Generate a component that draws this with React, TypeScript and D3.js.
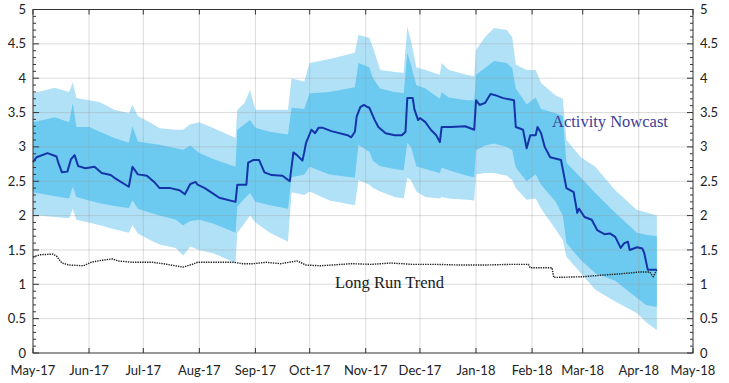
import React from "react";
import * as d3 from "d3";

const nowcastDates = ["2017-05-01","2017-05-03","2017-05-09","2017-05-14","2017-05-15","2017-05-17","2017-05-20","2017-05-22","2017-05-24","2017-05-26","2017-05-30","2017-06-04","2017-06-08","2017-06-13","2017-06-15","2017-06-23","2017-06-25","2017-06-28","2017-07-03","2017-07-07","2017-07-10","2017-07-16","2017-07-21","2017-07-24","2017-07-27","2017-07-30","2017-07-31","2017-08-04","2017-08-08","2017-08-12","2017-08-21","2017-08-22","2017-08-27","2017-08-28","2017-08-31","2017-09-03","2017-09-06","2017-09-10","2017-09-16","2017-09-20","2017-09-22","2017-09-24","2017-09-27","2017-09-28","2017-09-29","2017-10-02","2017-10-04","2017-10-06","2017-10-08","2017-10-13","2017-10-22","2017-10-24","2017-10-26","2017-10-27","2017-10-29","2017-10-31","2017-11-02","2017-11-03","2017-11-06","2017-11-08","2017-11-12","2017-11-17","2017-11-21","2017-11-23","2017-11-24","2017-11-27","2017-11-28","2017-11-30","2017-12-01","2017-12-04","2017-12-07","2017-12-10","2017-12-12","2017-12-13","2017-12-18","2017-12-26","2017-12-31","2018-01-01","2018-01-03","2018-01-06","2018-01-09","2018-01-12","2018-01-16","2018-01-22","2018-01-23","2018-01-27","2018-01-29","2018-01-31","2018-02-03","2018-02-04","2018-02-06","2018-02-08","2018-02-11","2018-02-17","2018-02-20","2018-02-24","2018-02-26","2018-02-27","2018-03-02","2018-03-06","2018-03-09","2018-03-13","2018-03-16","2018-03-19","2018-03-22","2018-03-24","2018-03-26","2018-03-27","2018-03-31","2018-04-03","2018-04-04","2018-04-06","2018-04-11"];
const nowcastValues = [2.78,2.85,2.91,2.86,2.77,2.63,2.64,2.82,2.88,2.72,2.69,2.71,2.62,2.59,2.55,2.42,2.71,2.60,2.58,2.49,2.40,2.40,2.37,2.31,2.46,2.49,2.45,2.40,2.33,2.26,2.20,2.45,2.45,2.77,2.81,2.81,2.63,2.59,2.58,2.50,2.92,2.88,2.80,2.92,3.06,3.25,3.20,3.28,3.28,3.23,3.17,3.14,3.22,3.44,3.58,3.61,3.58,3.57,3.39,3.29,3.20,3.17,3.17,3.22,3.71,3.71,3.54,3.39,3.42,3.36,3.25,3.17,3.07,3.29,3.29,3.30,3.25,3.68,3.61,3.64,3.77,3.75,3.71,3.68,3.29,3.25,2.98,3.17,3.17,3.29,3.20,3.00,2.85,2.81,2.40,2.34,2.04,2.10,1.98,1.94,1.79,1.73,1.74,1.69,1.53,1.60,1.62,1.50,1.54,1.52,1.46,1.21,1.21];

const trendDates = ["2017-05-01","2017-05-05","2017-05-12","2017-05-14","2017-05-17","2017-05-21","2017-05-29","2017-06-02","2017-06-08","2017-06-14","2017-06-17","2017-06-25","2017-07-06","2017-07-12","2017-07-23","2017-07-28","2017-07-31","2017-08-09","2017-08-20","2017-08-25","2017-08-31","2017-09-07","2017-09-15","2017-09-24","2017-09-29","2017-10-07","2017-10-13","2017-10-24","2017-11-04","2017-11-15","2017-11-27","2017-12-10","2017-12-24","2018-01-05","2018-01-20","2018-01-30","2018-01-31","2018-02-12","2018-02-13","2018-03-01","2018-03-10","2018-03-21","2018-04-02","2018-04-07","2018-04-09","2018-04-11"];
const trendValues = [1.40,1.43,1.44,1.41,1.31,1.28,1.27,1.32,1.35,1.37,1.34,1.32,1.32,1.30,1.25,1.29,1.32,1.32,1.32,1.30,1.30,1.32,1.30,1.34,1.28,1.27,1.28,1.30,1.29,1.31,1.29,1.29,1.28,1.28,1.29,1.29,1.24,1.24,1.10,1.11,1.13,1.15,1.18,1.18,1.11,1.21];

const bandDates = ["2017-05-01","2017-05-13","2017-05-21","2017-05-23","2017-05-25","2017-06-01","2017-06-07","2017-06-15","2017-06-23","2017-06-25","2017-06-28","2017-07-05","2017-07-10","2017-07-19","2017-07-23","2017-07-27","2017-08-01","2017-08-09","2017-08-21","2017-08-22","2017-08-26","2017-08-29","2017-09-01","2017-09-09","2017-09-19","2017-09-21","2017-09-28","2017-10-01","2017-10-12","2017-10-26","2017-10-28","2017-11-03","2017-11-05","2017-11-09","2017-11-17","2017-11-22","2017-11-24","2017-11-26","2017-11-29","2017-12-04","2017-12-12","2017-12-13","2017-12-17","2017-12-27","2017-12-31","2018-01-01","2018-01-06","2018-01-11","2018-01-18","2018-01-21","2018-01-23","2018-01-29","2018-02-03","2018-02-06","2018-02-14","2018-02-18","2018-02-20","2018-02-28","2018-03-08","2018-03-19","2018-03-31","2018-04-05","2018-04-11"];
const outerUpper = [3.78,3.86,3.80,3.94,3.71,3.68,3.65,3.54,3.49,3.61,3.45,3.35,3.27,3.25,3.25,3.33,3.36,3.27,3.13,3.54,3.64,3.83,3.54,3.54,3.54,4.00,3.95,4.22,4.28,4.37,4.63,4.59,4.45,4.12,4.09,4.08,4.75,4.55,4.16,4.12,4.05,4.22,4.12,4.05,4.03,4.41,4.60,4.73,4.70,4.60,4.20,4.12,4.12,3.93,3.75,3.70,3.10,2.85,2.71,2.37,2.08,2.05,2.00];
const innerUpper = [3.36,3.43,3.36,3.64,3.29,3.29,3.22,3.13,3.06,3.30,3.08,3.05,3.03,2.98,2.96,3.02,2.91,2.82,2.71,3.25,3.33,3.39,3.28,3.22,3.18,3.57,3.55,3.78,3.80,3.87,4.22,4.16,4.00,3.85,3.80,3.78,4.37,4.20,3.90,3.85,3.70,3.80,3.72,3.68,3.68,4.05,4.15,4.25,4.22,4.15,3.85,3.62,3.72,3.55,3.49,3.45,2.77,2.55,2.33,2.04,1.75,1.72,1.70];
const innerLower = [2.34,2.28,2.25,2.42,2.27,2.22,2.18,2.14,2.11,2.22,2.10,2.04,2.00,1.94,1.86,1.92,1.94,1.88,1.75,2.13,2.25,2.33,2.20,2.15,2.10,2.56,2.60,2.71,2.60,2.55,3.03,2.93,2.80,2.72,2.68,2.66,3.06,3.00,2.72,2.68,2.62,2.70,2.66,2.58,2.56,2.95,3.02,3.05,3.00,2.95,2.70,2.50,2.60,2.45,2.20,2.00,1.60,1.35,1.16,1.05,0.80,0.70,0.67];
const outerLower = [2.01,1.98,1.96,2.10,1.94,1.90,1.86,1.80,1.75,1.86,1.74,1.64,1.58,1.53,1.42,1.55,1.50,1.45,1.31,1.75,1.89,2.00,1.90,1.75,1.62,2.34,2.30,2.35,2.22,2.15,2.52,2.45,2.40,2.35,2.27,2.25,2.55,2.52,2.35,2.27,2.25,2.27,2.25,2.23,2.22,2.60,2.62,2.62,2.58,2.52,2.40,2.23,2.25,2.10,1.80,1.64,1.40,1.16,0.92,0.75,0.58,0.45,0.33];

const yTicks = [0, 0.5, 1, 1.5, 2, 2.5, 3, 3.5, 4, 4.5, 5];
const monthLabels = ["May-17","Jun-17","Jul-17","Aug-17","Sep-17","Oct-17","Nov-17","Dec-17","Jan-18","Feb-18","Mar-18","Apr-18","May-18"];

const W = 729, H = 383;
const M = { left: 33, right: 693, top: 9.5, bottom: 353 };

export default function App() {
  const parse = d3.timeParse("%Y-%m-%d");
  const x = d3.scaleTime().domain([parse("2017-05-01")!, parse("2018-05-01")!]).range([M.left, M.right]);
  const y = d3.scaleLinear().domain([0, 5]).range([M.bottom, M.top]);
  const months = d3.timeMonth.range(parse("2017-05-01")!, parse("2018-05-02")!);

  const bands = bandDates.map((d, i) => ({ date: parse(d)!, ou: outerUpper[i], iu: innerUpper[i], il: innerLower[i], ol: outerLower[i] }));
  const outerArea = d3.area<any>().x(d => x(d.date)).y0(d => y(d.ol)).y1(d => y(d.ou))(bands) || "";
  const innerArea = d3.area<any>().x(d => x(d.date)).y0(d => y(d.il)).y1(d => y(d.iu))(bands) || "";
  const nowcast = nowcastDates.map((d, i) => [x(parse(d)!), y(nowcastValues[i])] as [number, number]);
  const trend = trendDates.map((d, i) => [x(parse(d)!), y(trendValues[i])] as [number, number]);
  const line = d3.line();
  const minor = d3.range(0, 50).map(i => i / 10).filter(v => Math.abs(v * 2 - Math.round(v * 2)) > 1e-6);

  const tickFont = "Lato, 'Open Sans', sans-serif";
  return (
    <svg width={W} height={H} style={{ position: "absolute", left: 0, top: 0, background: "#fff" }}>
      <rect x={0} y={0} width={W} height={H} fill="#fff" />
      <path d={outerArea} fill="#b1e1f7" />
      <path d={innerArea} fill="#6ccaf1" />
      {yTicks.slice(1, -1).map(t => (
        <line key={"gy" + t} x1={M.left} x2={M.right} y1={y(t)} y2={y(t)} stroke="#9a9a9a" strokeOpacity={0.35} strokeWidth={1} />
      ))}
      {months.slice(1, -1).map((m, i) => (
        <line key={"gx" + i} x1={x(m)} x2={x(m)} y1={M.top} y2={M.bottom} stroke="#9a9a9a" strokeOpacity={0.35} strokeWidth={1} />
      ))}
      <path d={line(trend) || ""} fill="none" stroke="#222" strokeWidth={1.4} strokeDasharray="1.4,1" />
      <path d={line(nowcast) || ""} fill="none" stroke="#1434a8" strokeWidth={2} strokeLinejoin="round" />
      <rect x={M.left} y={M.top} width={M.right - M.left} height={M.bottom - M.top} fill="none" stroke="#333" strokeWidth={1} />
      {yTicks.map(t => (
        <g key={"yt" + t}>
          <line x1={M.left} x2={M.left + 6} y1={y(t)} y2={y(t)} stroke="#333" />
          <line x1={M.right - 6} x2={M.right} y1={y(t)} y2={y(t)} stroke="#333" />
          <text x={26} y={y(t)} dy="0.35em" textAnchor="end" fontFamily={tickFont} fontSize={13} fill="#222">{String(t)}</text>
          <text x={700} y={y(t)} dy="0.35em" textAnchor="start" fontFamily={tickFont} fontSize={13} fill="#222">{String(t)}</text>
        </g>
      ))}
      {minor.map(t => (
        <g key={"ym" + t}>
          <line x1={M.left} x2={M.left + 3} y1={y(t)} y2={y(t)} stroke="#333" />
          <line x1={M.right - 3} x2={M.right} y1={y(t)} y2={y(t)} stroke="#333" />
        </g>
      ))}
      {months.map((m, i) => (
        <g key={"xt" + i}>
          <line x1={x(m)} x2={x(m)} y1={M.bottom} y2={M.bottom - 5} stroke="#333" />
          <line x1={x(m)} x2={x(m)} y1={M.top} y2={M.top + 5} stroke="#333" />
          <text x={x(m)} y={375} textAnchor="middle" fontFamily={tickFont} fontSize={13} fill="#222">{monthLabels[i]}</text>
        </g>
      ))}
      <text x={552} y={127} fontFamily="'Liberation Serif', 'DejaVu Serif', serif" fontSize={16.5} fill="#3c3c96">Activity Nowcast</text>
      <text x={335} y={288} fontFamily="'Liberation Serif', 'DejaVu Serif', serif" fontSize={16.5} fill="#1a1a1a">Long Run Trend</text>
    </svg>
  );
}
